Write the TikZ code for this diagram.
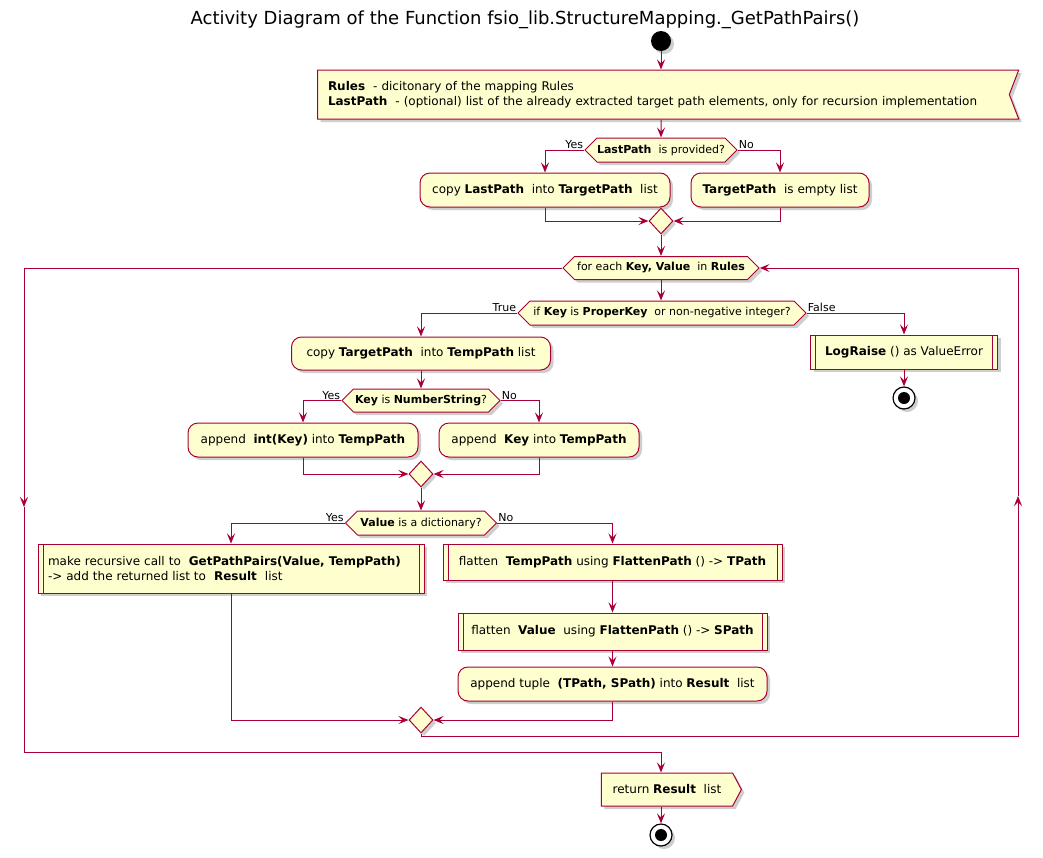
\documentclass[tikz,border=0pt]{standalone}
\usepackage{fontspec}
\setmainfont{DejaVu Sans}
\usetikzlibrary{shapes.geometric,shapes.symbols,shadows,arrows.meta}
\definecolor{pborder}{HTML}{A80036}
\definecolor{pfill}{HTML}{FEFECE}
\begin{document}
\begin{tikzpicture}[x=1pt,y=-1pt,
  every node/.style={font=\fontsize{12}{15}\selectfont, inner sep=0pt},
  shd/.style={drop shadow={shadow xshift=3pt,shadow yshift=-3pt,opacity=0.35,fill=black!55}},
  actbox/.style={draw=pborder, fill=pfill, line width=1pt, rounded corners=10pt, minimum height=34pt, shd},
  subproc/.style={draw=pborder, fill=pfill, line width=1pt, minimum height=34pt, shd,
    path picture={\draw[pborder,line width=1pt]
      ([xshift=5pt]path picture bounding box.north west) -- ([xshift=5pt]path picture bounding box.south west)
      ([xshift=-5pt]path picture bounding box.north east) -- ([xshift=-5pt]path picture bounding box.south east);}},
  decis/.style={shape=signal, signal to=west and east, signal pointer angle=90, draw=pborder, fill=pfill,
    line width=1pt, minimum height=24pt, font=\fontsize{11}{13}\selectfont, shd},
  mergept/.style={diamond, draw=pborder, fill=pfill, line width=1pt, minimum width=24pt, minimum height=26pt, shd},
  arr/.style={draw=pborder, line width=1pt, -{Stealth[length=10pt,width=8pt,inset=4pt]}},
  ln/.style={draw=pborder, line width=1pt},
  lbl/.style={font=\fontsize{11}{13}\selectfont, inner sep=1pt},
  stopnode/.style={circle, draw=black, line width=1.2pt, fill=white, minimum size=22pt, shd,
    path picture={\fill[black] (path picture bounding box.center) circle (6pt);}}
]
\useasboundingbox (0,0) rectangle (1043,857);

\node[font=\fontsize{18}{21}\selectfont] (title) at (525,20) {Activity Diagram of the Function fsio\_lib.StructureMapping.\_GetPathPairs()};

\node[circle, fill=black, minimum size=20pt, shd] (start) at (661,41) {};

\node[shape=signal, signal to=nowhere, signal from=east, signal pointer angle=138, draw=pborder, fill=pfill,
  line width=1pt, minimum width=701pt, minimum height=49pt, text width=671pt, align=left, shd] (inp) at (663.5,94.5)
  {\textbf{Rules} \ - dicitonary of the mapping Rules\\\textbf{LastPath} \ - (optional) list of the already extracted target path elements, only for recursion implementation};

\node[decis, minimum width=152pt] (d1) at (661,150) {\textbf{LastPath} \ is provided?};
\node[actbox, minimum width=250pt] (b1L) at (545,190) {copy \textbf{LastPath} \ into \textbf{TargetPath} \ list};
\node[actbox, minimum width=178pt] (b1R) at (780,190) {\textbf{TargetPath} \ is empty list};
\node[mergept] (m1) at (661,221) {};

\node[decis, minimum width=196pt, minimum height=23pt] (loop) at (661,268) {for each \textbf{Key, Value} \ in \textbf{Rules}};

\node[decis, minimum width=288pt] (d2) at (662,313) {if \textbf{Key} is \textbf{ProperKey} \ or non-negative integer?};
\node[subproc, minimum width=187pt] (lograise) at (904,352) {\textbf{LogRaise} () as ValueError};
\node[stopnode] (stop1) at (904,398) {};

\node[actbox, minimum width=259pt, minimum height=33pt] (b2) at (421,353.5) {copy \textbf{TargetPath} \ into \textbf{TempPath} list};
\node[decis, minimum width=158pt, minimum height=23pt] (d3) at (421,400.5) {\textbf{Key} is \textbf{NumberString}?};
\node[actbox, minimum width=230pt] (b3L) at (303,440) {append \ \textbf{int(Key)} into \textbf{TempPath}};
\node[actbox, minimum width=200pt] (b3R) at (539,440) {append \ \textbf{Key} into \textbf{TempPath}};
\node[mergept] (m3) at (421,474) {};

\node[decis, minimum width=151pt] (d4) at (421,523) {\textbf{Value} is a dictionary?};
\node[subproc, minimum width=386pt, minimum height=49pt, text width=366pt, align=left] (b4L) at (231,568.5)
  {make recursive call to \ \textbf{GetPathPairs(Value, TempPath)}\\-> add the returned list to \ \textbf{Result} \ list};
\node[subproc, minimum width=339pt, minimum height=36pt] (b4R1) at (612.5,562) {flatten \ \textbf{TempPath} using \textbf{FlattenPath} () -> \textbf{TPath}};
\node[subproc, minimum width=309pt, minimum height=37pt] (b4R2) at (612.5,631.5) {flatten \ \textbf{Value} \ using \textbf{FlattenPath} () -> \textbf{SPath}};
\node[actbox, minimum width=309pt] (b4R3) at (612.5,684) {append tuple \ \textbf{(TPath, SPath)} into \textbf{Result} \ list};
\node[mergept] (m4) at (421,720) {};

\node[shape=signal, signal to=east, signal pointer angle=124, draw=pborder, fill=pfill, line width=1pt,
  minimum width=140pt, minimum height=33pt, shd] (ret) at (667,789.5) {return \textbf{Result} \ list};
\node[stopnode] (stop2) at (661,835) {};

% labels
\node[lbl, anchor=south east] (l1y) at (d1.west) {Yes};
\node[lbl, anchor=south west] (l1n) at (d1.east) {No};
\node[lbl, anchor=south east] (l2t) at (d2.west) {True};
\node[lbl, anchor=south west] (l2f) at (d2.east) {False};
\node[lbl, anchor=south east] (l3y) at (d3.west) {Yes};
\node[lbl, anchor=south west] (l3n) at (d3.east) {No};
\node[lbl, anchor=south east] (l4y) at (d4.west) {Yes};
\node[lbl, anchor=south west] (l4n) at (d4.east) {No};

% coordinates for loop lines
\coordinate (lm) at (24,507);
\coordinate (lb) at (24,752);
\coordinate (rb) at (1018,736);
\coordinate (rm) at (1018,496);

% connectors
\draw[arr] (start) -- (start |- inp.north);
\draw[arr] (start |- inp.south) -- (d1);
\draw[arr] (d1.west) -| (b1L.north);
\draw[arr] (d1.east) -| (b1R.north);
\draw[arr] (b1L.south) |- (m1.west);
\draw[arr] (b1R.south) |- (m1.east);
\draw[arr] (m1.south) -- (loop.north);
\draw[arr] (loop.south -| m1) -- (d2.north -| m1);
\draw[arr] (d2.west) -| (b2.north);
\draw[arr] (d2.east) -| (lograise.north);
\draw[arr] (lograise.south) -- (stop1.north);
\draw[arr] (b2.south) -- (d3.north);
\draw[arr] (d3.west) -| (b3L.north);
\draw[arr] (d3.east) -| (b3R.north);
\draw[arr] (b3L.south) |- (m3.west);
\draw[arr] (b3R.south) |- (m3.east);
\draw[arr] (m3.south) -- (d4.north);
\draw[arr] (d4.west) -| (b4L.north);
\draw[arr] (d4.east) -| (b4R1.north);
\draw[arr] (b4R1.south) -- (b4R2.north);
\draw[arr] (b4R2.south) -- (b4R3.north);
\draw[arr] (b4L.south) |- (m4.west);
\draw[arr] (b4R3.south) |- (m4.east);
\draw[arr] (m4.south) |- (rb) -- (rm);
\draw[arr] (rm) |- (loop.east);
\draw[arr] (loop.west) -| (lm);
\draw[ln] (lm) -- (lb);
\draw[arr] (lb) -| (start |- ret.north);
\draw[arr] (start |- ret.south) -- (stop2.north);
\end{tikzpicture}
\end{document}
